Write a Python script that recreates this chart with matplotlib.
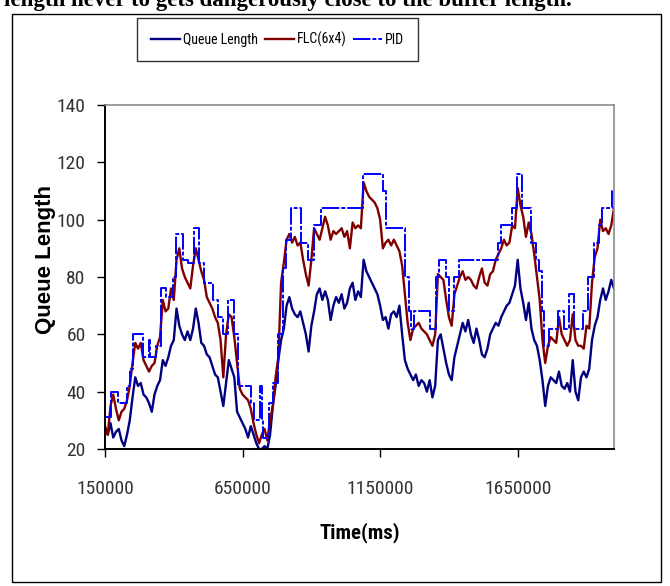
import numpy as np
import matplotlib
matplotlib.use("Agg")
import matplotlib.pyplot as plt
from matplotlib import font_manager
from matplotlib.patches import Rectangle

# sample times (ms): one sample every 10 s, from 150000 to 2000000
t_start, t_step = 150000, 10000

queue_len = [
    27, 25, 29, 24, 26, 27, 23, 21, 25, 30, 38, 45, 42, 43, 39, 38, 36, 33, 39, 42,
    44, 51, 49, 52, 56, 58, 69, 63, 60, 58, 61, 58, 62, 69, 64, 57, 56, 53, 52, 49,
    46, 45, 40, 35, 43, 51, 48, 45, 33, 31, 29, 27, 24, 28, 25, 22, 20, 20, 21, 20,
    25, 35, 42, 51, 58, 62, 70, 73, 69, 67, 66, 68, 64, 60, 54, 63, 68, 74, 76, 72,
    75, 72, 65, 70, 73, 71, 74, 69, 71, 76, 78, 72, 75, 73, 86, 82, 80, 78, 76, 74,
    70, 65, 66, 62, 67, 68, 66, 70, 60, 51, 48, 46, 44, 46, 42, 44, 43, 40, 44, 38,
    42, 58, 60, 55, 50, 46, 44, 52, 56, 60, 64, 61, 65, 60, 57, 62, 58, 53, 52, 55,
    60, 62, 64, 63, 66, 68, 70, 71, 74, 77, 86, 76, 71, 65, 71, 62, 58, 56, 51, 44,
    35, 42, 45, 44, 43, 47, 42, 41, 43, 40, 51, 40, 37, 45, 47, 45, 48, 58, 63, 66,
    72, 76, 72, 75, 79, 76,
]

flc_6x4 = [
    28, 25, 35, 39, 34, 30, 33, 34, 37, 42, 50, 57, 55, 57, 51, 49, 47, 49, 50, 56,
    59, 72, 68, 69, 76, 72, 86, 90, 83, 80, 78, 76, 84, 90, 86, 82, 79, 73, 71, 69,
    66, 64, 58, 45, 60, 67, 66, 59, 50, 41, 39, 38, 37, 34, 29, 25, 22, 25, 27, 23,
    30, 35, 45, 52, 78, 85, 93, 95, 92, 94, 91, 92, 86, 81, 77, 86, 97, 95, 93, 97,
    101, 98, 93, 96, 95, 96, 97, 94, 96, 90, 99, 97, 98, 97, 113, 110, 108, 107, 106, 104,
    100, 90, 92, 93, 91, 93, 91, 89, 84, 74, 64, 58, 62, 63, 64, 62, 61, 60, 58, 56,
    60, 81, 80, 79, 72, 66, 63, 74, 77, 80, 82, 79, 80, 79, 77, 76, 80, 83, 78, 77,
    81, 82, 86, 88, 90, 93, 91, 92, 98, 97, 111, 105, 101, 94, 99, 95, 88, 80, 72, 58,
    50, 56, 59, 58, 57, 66, 60, 58, 56, 58, 67, 58, 56, 56, 55, 63, 62, 78, 87, 90,
    100, 96, 97, 95, 98, 104,
]

# PID output is piecewise constant: switch times (ms) and held levels
pid_t = [
    150000, 172000, 197000, 230000, 241000, 252000, 288000, 310000, 313000, 335000,
    353000, 371000, 397000, 408000, 433000, 451000, 473000, 491000, 509000, 542000,
    560000, 578000, 597000, 618000, 633000, 680000, 691000, 713000, 720000, 724000,
    745000, 760000, 778000, 796000, 807000, 825000, 862000, 887000, 909000, 934000,
    1087000, 1159000, 1170000, 1239000, 1254000, 1261000, 1272000, 1330000, 1352000, 1363000,
    1388000, 1399000, 1417000, 1435000, 1577000, 1588000, 1631000, 1646000, 1664000, 1700000,
    1715000, 1726000, 1737000, 1744000, 1762000, 1798000, 1817000, 1835000, 1853000, 1889000,
    1907000, 1926000, 1944000, 1958000, 1994000, 2000000,
]
pid_q = [
    31, 40, 36, 42, 48, 60, 52, 58, 52, 56,
    76, 73, 80, 95, 86, 85, 97, 85, 78, 72,
    66, 60, 72, 60, 42, 36, 30, 42, 30, 24,
    36, 43, 60, 83, 93, 104, 92, 86, 98, 104,
    116, 110, 97, 80, 68, 62, 68, 62, 80, 86,
    80, 68, 80, 86, 92, 98, 104, 116, 104, 92,
    86, 82, 68, 56, 62, 68, 62, 74, 62, 68,
    80, 92, 98, 104, 110, 110,
]

x_ticks = [150000, 650000, 1150000, 1650000]
y_ticks = [20, 40, 60, 80, 100, 120, 140]


def _narrow_font():
    # the chart uses an Arial Narrow look; take any condensed sans face that is installed
    faces = font_manager.fontManager.ttflist
    for name in ("Liberation Sans Narrow", "Arial Narrow", "Roboto Condensed",
                 "Open Sans Condensed", "Noto Sans Condensed"):
        if any(f.name == name for f in faces):
            return name, "normal", True
    for f in faces:
        st = str(f.stretch)
        if st in ("condensed", "semi-condensed", "extra-condensed") and "Sans" in f.name \
                and "Mono" not in f.name and "CJK" not in f.name:
            return f.name, st, True
    return "Liberation Sans", "normal", False


narrow, stretch, is_narrow = _narrow_font()
tick_size = 14 if is_narrow else 11.5
leg_size = 10 if is_narrow else 8.8

W, H = 670, 586
fig = plt.figure(figsize=(W / 100, H / 100), dpi=100)
fig.patch.set_facecolor("white")

ax = fig.add_axes([105 / W, 1 - 449 / H, 509 / W, 344 / H])
t = t_start + t_step * np.arange(len(queue_len))

ax.plot(t, queue_len, color="#000080", lw=1.7, label="Queue Length")
ax.plot(t, flc_6x4, color="#800000", lw=1.7, label="FLC(6x4)")
ax.plot(pid_t, pid_q, color="#0000ff", lw=1.4, drawstyle="steps-post",
        dashes=(9, 1.0, 2, 1.0), label="PID")

ax.set_xlim(150000, 2000000)
ax.set_ylim(20, 140)
ax.set_xticks(x_ticks)
ax.set_yticks(y_ticks)
ax.ticklabel_format(axis="x", style="plain", useOffset=False)
ax.tick_params(axis="both", direction="out", length=6, width=1, colors="black",
               labelcolor="#333333", labelsize=tick_size)
ax.tick_params(axis="x", pad=16)
ax.tick_params(axis="y", pad=8)
for lab in ax.get_xticklabels() + ax.get_yticklabels():
    lab.set_fontfamily(narrow)
    lab.set_fontstretch(stretch)
for side in ("left", "bottom"):
    ax.spines[side].set_color("black")
    ax.spines[side].set_linewidth(1.4)
for side in ("top", "right"):
    ax.spines[side].set_color("#8c8c8c")
    ax.spines[side].set_linewidth(1.2)

fig.text(46 / W, 1 - 260 / H, "Queue Length", rotation=90, ha="center", va="center",
         fontsize=16, fontweight="bold", family="Liberation Sans", color="black")
fig.text(360 / W, 1 - 533 / H, "Time(ms)", ha="center", va="center",
         fontsize=tick_size + 1, fontweight="bold", family=narrow, fontstretch=stretch,
         color="black")

leg = fig.legend(loc="center", bbox_to_anchor=(277.5 / W, 1 - 39.5 / H), ncol=3,
                 frameon=True, fancybox=False, edgecolor="black",
                 handlelength=2.1, handletextpad=0.2, columnspacing=0.5,
                 borderpad=1.0, borderaxespad=0, prop={"family": narrow, "stretch": stretch,
                                                      "size": leg_size})
leg.get_frame().set_linewidth(1.0)

# outer frame of the figure and the clipped line of paper text above it
fig.add_artist(Rectangle((12 / W, 1 - 582 / H), 649 / W, 568 / H, transform=fig.transFigure,
                         fill=False, edgecolor="black", linewidth=1.0))
fig.text(4 / W, 1 - 6 / H, "length never to gets dangerously close to the buffer length.",
         ha="left", va="baseline", fontsize=16.5, fontweight="bold",
         family="Liberation Serif", color="black")

fig.savefig("out.png", dpi=100, facecolor="white")
